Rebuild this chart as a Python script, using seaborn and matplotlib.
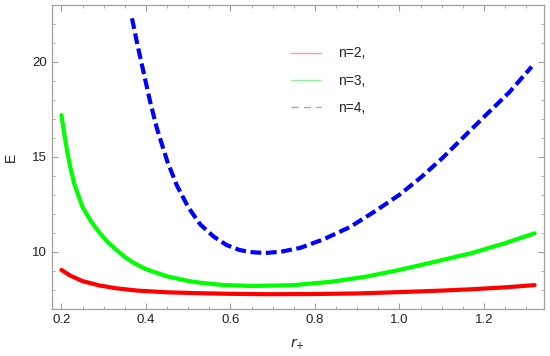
import matplotlib
matplotlib.use('Agg')
import matplotlib.pyplot as plt
from matplotlib.lines import Line2D
from matplotlib.ticker import MultipleLocator
import seaborn as sns

# valores
r_n2 = [0.20, 0.22, 0.25, 0.29, 0.33, 0.38, 0.45, 0.53, 0.60, 0.69, 0.80, 0.90, 1.00, 1.10, 1.17, 1.25, 1.32]
E_n2 = [9.04, 8.75, 8.45, 8.22, 8.07, 7.95, 7.86, 7.81, 7.78, 7.76, 7.77, 7.80, 7.87, 7.95, 8.02, 8.12, 8.24]

r_n3 = [0.20, 0.21, 0.22, 0.23, 0.25, 0.27, 0.29, 0.31, 0.33, 0.35, 0.37, 0.40, 0.45, 0.50, 0.53,
        0.58, 0.65, 0.75, 0.84, 0.92, 1.00, 1.08, 1.17, 1.25, 1.32]
E_n3 = [17.2, 15.75, 14.55, 13.6, 12.35, 11.6, 11.0, 10.5, 10.1, 9.72, 9.42, 9.08, 8.70, 8.46, 8.36,
        8.25, 8.19, 8.24, 8.42, 8.68, 9.04, 9.45, 9.92, 10.45, 10.97]

r_n4 = [0.367, 0.38, 0.394, 0.41, 0.426, 0.45, 0.473, 0.50, 0.528, 0.56, 0.591, 0.62, 0.646, 0.682,
        0.72, 0.765, 0.82, 0.883, 0.94, 1.00, 1.05, 1.10, 1.15, 1.20, 1.26, 1.313]
E_n4 = [22.3, 20.9, 19.5, 17.9, 16.5, 14.8, 13.5, 12.35, 11.45, 10.8, 10.35, 10.1, 9.98, 9.93,
        10.0, 10.2, 10.65, 11.3, 12.1, 13.0, 13.9, 14.9, 16.0, 17.1, 18.4, 19.75]

labels = ['n=2,', 'n=3,', 'n=4,']
colores = ['#ff0000', '#00ff00', '#0000ff']
colores_leyenda = ['#ff9a9a', '#9af09a', '#9a9aff']

sns.set_style('ticks')
plt.rcParams['font.family'] = ['Liberation Sans', 'DejaVu Sans']

fig = plt.figure(figsize=(5.5, 3.56), dpi=100)
ax = fig.add_axes([0.094, 0.132, 0.895, 0.854])

sns.lineplot(x=r_n2, y=E_n2, ax=ax, color=colores[0], lw=3.0)
sns.lineplot(x=r_n3, y=E_n3, ax=ax, color=colores[1], lw=3.0)
sns.lineplot(x=r_n4, y=E_n4, ax=ax, color=colores[2], lw=3.0,
             linestyle=(0, (2.6, 1.1)))
for ln in ax.get_lines():
    ln.set_solid_joinstyle('round')
    ln.set_dash_joinstyle('round')

ax.set_xlim(0.177, 1.342)
ax.set_ylim(6.98, 23.0)
ax.xaxis.set_minor_locator(MultipleLocator(0.05))
ax.yaxis.set_major_locator(MultipleLocator(5))
ax.yaxis.set_minor_locator(MultipleLocator(1))
ax.set_xticks([0.2, 0.4, 0.6, 0.8, 1.0, 1.2])
ax.set_xticklabels(['0.2', '0.4', '0.6', '0.8', '1.0', '1.2'])

gris = '#a0a0a0'
for s in ax.spines.values():
    s.set_color(gris)
    s.set_linewidth(0.9)
ax.tick_params(which='both', direction='in', top=True, right=True,
               color=gris, labelsize=9.5, labelcolor='#222222')
ax.tick_params(which='major', length=4, width=0.8)
ax.tick_params(which='minor', length=2.3, width=0.6)

ax.set_xlabel(r'$r_{+}$', fontsize=10, color='#222222', labelpad=8)
ax.set_ylabel('E', fontsize=10, color='#222222', labelpad=10)

handles = [
    Line2D([], [], color=colores_leyenda[0], lw=1.0),
    Line2D([], [], color=colores_leyenda[1], lw=1.0),
    Line2D([], [], color=colores_leyenda[2], lw=1.0, linestyle=(0, (5, 4))),
]
ax.legend(handles, labels, loc='upper left', bbox_to_anchor=(0.46, 0.905),
          frameon=False, fontsize=10, handlelength=2.2, handletextpad=1.2,
          labelspacing=0.95)

fig.savefig('out.png', dpi=100)
